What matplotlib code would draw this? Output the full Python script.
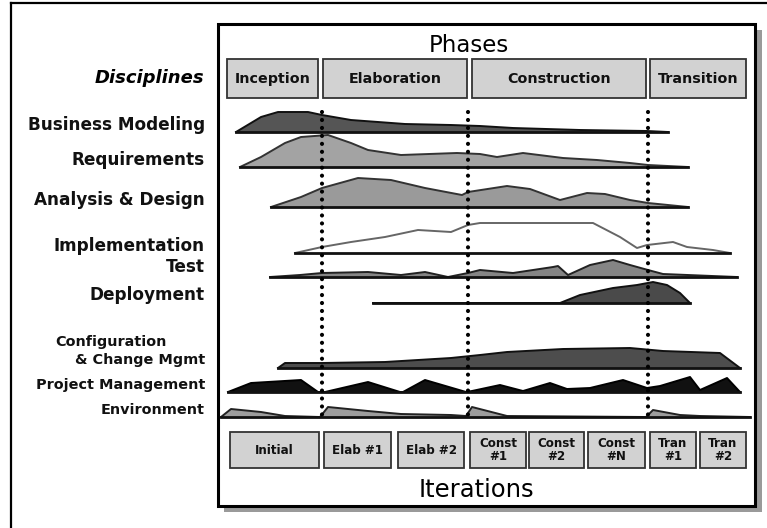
import matplotlib
matplotlib.use("Agg")
import matplotlib.pyplot as plt
import numpy as np
from matplotlib.patches import Rectangle, FancyBboxPatch

# ---------------- data ----------------
phases = ["Inception", "Elaboration", "Construction", "Transition"]
iterations = ["Initial", "Elab #1", "Elab #2", "Const\n#1", "Const\n#2",
              "Const\n#N", "Tran\n#1", "Tran\n#2"]
milestones = [322, 468, 648]  # timeline positions of phase ends

# effort profiles: timeline position / effort height
bm_t = [236, 261, 278, 308, 322, 351, 378, 405, 451, 480, 513, 580, 647, 668]
bm_h = [0, 15, 20, 20, 17, 12, 10, 8, 7, 6, 4, 2, 1, 0]

req_t = [240, 261, 285, 301, 328, 351, 368, 401, 457, 480, 497, 523, 563, 597, 630, 648, 688]
req_h = [0, 10, 24, 30, 32, 24, 17, 12, 14, 13, 10, 14, 9, 7, 4, 2, 0]

ad_t = [271, 301, 322, 358, 391, 425, 462, 468, 507, 530, 560, 587, 605, 630, 648, 688]
ad_h = [0, 10, 19, 29, 27, 19, 12, 15, 21, 18, 7, 14, 13, 7, 4, 0]

impl_t = [295, 322, 351, 385, 418, 451, 468, 480, 593, 620, 637, 647, 673, 687, 713, 730]
impl_h = [0, 6, 11, 16, 23, 21, 28, 30, 30, 16, 5, 8, 11, 6, 3, 0]

test_t = [270, 300, 322, 368, 401, 425, 448, 468, 480, 513, 553, 558, 568, 590, 613, 630, 648, 663, 737]
test_h = [0, 2, 4, 5, 2, 5, 0, 4, 7, 4, 10, 11, 2, 12, 17, 12, 7, 3, 0]

dep_t = [373, 560, 580, 613, 637, 653, 667, 680, 690]
dep_h = [0, 0, 8, 15, 18, 21, 18, 10, 0]

ccm_t = [278, 285, 322, 385, 451, 480, 507, 563, 630, 663, 720, 740]
ccm_h = [0, 5, 5, 6, 10, 13, 16, 19, 20, 17, 15, 0]

pm_t = [228, 251, 301, 318, 325, 368, 400, 403, 425, 466, 472, 500, 523, 550, 567,
        590, 623, 647, 660, 690, 700, 727, 740]
pm_h = [0, 9, 12, 0, 0, 10, 0, 0, 12, 0, 1, 7, 1, 9, 3, 4, 12, 4, 6, 15, 2, 14, 0]

env_t = [221, 231, 261, 285, 320, 328, 368, 401, 451, 466, 472, 507, 646, 653, 680, 700, 750]
env_h = [0, 8, 5, 1, 0, 10, 6, 3, 2, 1, 10, 1, 0, 7, 2, 1, 0]

# ---------------- figure ----------------
fig = plt.figure(figsize=(7.67, 5.28), dpi=100)
ax = fig.add_axes([0, 0, 1, 1])
ax.set_xlim(0, 767)
ax.set_ylim(528, 0)
ax.axis("off")

# outer frame (partially visible)
ax.plot([11, 11], [3, 528], color="black", lw=1.6, zorder=1)
ax.plot([11, 767], [3, 3], color="black", lw=1.6, zorder=1)

# main panel with shadow
ax.add_patch(Rectangle((224, 30), 538, 482, facecolor="#9a9a9a", edgecolor="none", zorder=1))
ax.add_patch(Rectangle((218, 24), 537, 482, facecolor="white", edgecolor="black", lw=2.2, zorder=2))

# titles
ax.text(469, 45, "Phases", ha="center", va="center", fontsize=16.5, zorder=5)
ax.text(476, 490, "Iterations", ha="center", va="center", fontsize=17.5, zorder=5)

# phase boxes
phase_x = [(227, 318), (323, 467), (472, 646), (650, 746)]
for name, (x0, x1) in zip(phases, phase_x):
    ax.add_patch(Rectangle((x0, 59), x1 - x0, 39, facecolor="#d2d2d2",
                           edgecolor="#333333", lw=1.3, zorder=3))
    ax.text((x0 + x1) / 2, 79, name, ha="center", va="center",
            fontsize=10.3, fontweight="bold", color="#111111", zorder=5)

# iteration boxes
iter_x = [(230, 319), (324, 391), (398, 464), (470, 526), (529, 584),
          (588, 645), (650, 696), (700, 746)]
for name, (x0, x1) in zip(iterations, iter_x):
    ax.add_patch(Rectangle((x0, 432), x1 - x0, 36, facecolor="#d2d2d2",
                           edgecolor="#333333", lw=1.3, zorder=3))
    ax.text((x0 + x1) / 2, 450, name, ha="center", va="center",
            fontsize=8.6, fontweight="bold", color="#111111",
            linespacing=1.05, zorder=5)

# humps
rows = [
    (bm_t, bm_h, 132, "#555555", "#111111"),
    (req_t, req_h, 167, "#a3a3a3", "#333333"),
    (ad_t, ad_h, 207, "#9a9a9a", "#333333"),
    (impl_t, impl_h, 253, "white", "#666666"),
    (test_t, test_h, 277, "#858585", "#222222"),
    (dep_t, dep_h, 303, "#4a4a4a", "#111111"),
    (ccm_t, ccm_h, 368, "#4d4d4d", "#111111"),
    (pm_t, pm_h, 392, "#111111", "#000000"),
    (env_t, env_h, 417, "#9d9d9d", "#222222"),
]
for t, h, base, fc, ec in rows:
    t = np.asarray(t, float)
    top = base - np.asarray(h, float)
    ax.fill_between(t, base, top, facecolor=fc, edgecolor="none", zorder=4)
    ax.plot(t, top, color=ec, lw=1.4, zorder=4.5)
    ax.plot([t[0], t[-1]], [base, base], color="#111111", lw=2.0, zorder=4.6)

# milestone dotted lines
for m in milestones:
    ax.plot([m, m], [112, 422], color="black", lw=3.0,
            linestyle=(0, (0.01, 1.9)), dash_capstyle="round", zorder=6)

# discipline labels
ax.text(204, 78, "Disciplines", ha="right", va="center", fontsize=13,
        fontweight="bold", fontstyle="italic", zorder=5)
big_labels = [("Business Modeling", 125), ("Requirements", 160),
              ("Analysis & Design", 200), ("Implementation", 246),
              ("Test", 267), ("Deployment", 295)]
for s, y in big_labels:
    ax.text(205, y, s, ha="right", va="center", fontsize=12.2,
            fontweight="bold", color="#111111", zorder=5)
ax.text(167, 342, "Configuration", ha="right", va="center", fontsize=10.4,
        fontweight="bold", color="#111111", zorder=5)
small_labels = [("& Change Mgmt", 360), ("Project Management", 385),
                ("Environment", 410)]
for s, y in small_labels:
    ax.text(205, y, s, ha="right", va="center", fontsize=10.4,
            fontweight="bold", color="#111111", zorder=5)

fig.savefig("out.png", dpi=100)
